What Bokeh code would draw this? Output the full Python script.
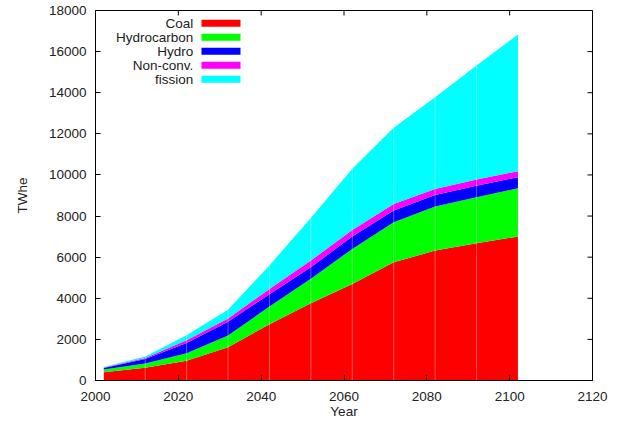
import math
from bokeh.plotting import figure
from bokeh.models import ColumnDataSource, FixedTicker, Range1d
from bokeh.embed import file_html
from bokeh.resources import INLINE
from bokeh.core.properties import value

years = [2002, 2012, 2022, 2032, 2042, 2052, 2062, 2072, 2082, 2092, 2102]
coal = [404, 620, 960, 1620, 2740, 3760, 4700, 5750, 6320, 6680, 7000]
hydrocarbon = [136, 210, 360, 570, 860, 1190, 1700, 1950, 2140, 2240, 2350]
hydro = [70, 215, 510, 670, 600, 560, 610, 570, 570, 560, 540]
nonconv = [25, 45, 130, 160, 250, 330, 310, 320, 290, 300, 290]
fission = [20, 80, 240, 420, 1150, 2060, 2980, 3700, 4460, 5540, 6650]

names = ["Coal", "Hydrocarbon", "Hydro", "Non-conv.", "fission"]
keys = ["coal", "hydrocarbon", "hydro", "nonconv", "fission"]
colors = ["#ff0000", "#00ff00", "#0000ff", "#ff00ff", "#00ffff"]
x_ticks = [2000, 2020, 2040, 2060, 2080, 2100, 2120]
y_ticks = [0, 2000, 4000, 6000, 8000, 10000, 12000, 14000, 16000, 18000]
x_min, x_max = 2000, 2120
y_min, y_max = 0, 18000

FONT = "Liberation Sans"
FS = "13.5px"
TXT = "#222222"

p = figure(frame_width=497, frame_height=370,
           x_range=Range1d(x_min, x_max), y_range=Range1d(y_min, y_max),
           output_backend="svg", toolbar_location=None,
           min_border_left=95, min_border_top=10, min_border_right=30,
           min_border_bottom=40)

src = ColumnDataSource(dict(year=years, coal=coal, hydrocarbon=hydrocarbon,
                            hydro=hydro, nonconv=nonconv, fission=fission))
p.varea_stack(stackers=keys, x="year", color=colors, source=src)

# faint seams at the data points (as in the gnuplot rendering)
total = [a + b + c + d + e for a, b, c, d, e in zip(coal, hydrocarbon, hydro, nonconv, fission)]
p.segment(x0=years[1:-1], y0=[y_min] * (len(years) - 2), x1=years[1:-1], y1=total[1:-1],
          line_color="white", line_alpha=0.35, line_width=1)

# gnuplot-style key: text right-aligned, swatch to the right
key_text_x = 2023.6
key_swatch_x = 2030.3
key_y = [17380, 16700, 16020, 15340, 14660]
p.text(x=[key_text_x] * 5, y=key_y, text=names, text_align="right",
       text_baseline="middle", text_font=value(FONT), text_font_size=FS,
       text_color=TXT)
p.rect(x=[key_swatch_x] * 5, y=key_y, width=39, height=7,
       width_units="screen", height_units="screen", fill_color=colors,
       line_color=None)

# mirrored inward ticks on the top and right borders
p.ray(x=[x_max] * len(y_ticks), y=y_ticks, length=5, length_units="screen",
      angle=math.pi, line_color="black", line_width=1)
p.ray(x=x_ticks, y=[y_max] * len(x_ticks), length=5, length_units="screen",
      angle=-math.pi / 2, line_color="black", line_width=1)

p.grid.visible = False
p.outline_line_color = "black"
p.outline_line_width = 1
p.background_fill_color = "white"
p.border_fill_color = "white"

p.xaxis.ticker = FixedTicker(ticks=x_ticks)
p.yaxis.ticker = FixedTicker(ticks=y_ticks)
p.xaxis.axis_label = "Year"
p.yaxis.axis_label = "TWhe"
for ax in (p.xaxis[0], p.yaxis[0]):
    ax.major_label_text_font = FONT
    ax.major_label_text_font_size = FS
    ax.major_label_text_color = TXT
    ax.axis_label_text_font = FONT
    ax.axis_label_text_font_size = FS
    ax.axis_label_text_font_style = "normal"
    ax.axis_label_text_color = TXT
    ax.major_tick_in = 5
    ax.major_tick_out = 0
    ax.minor_tick_line_color = None
    ax.axis_line_color = "black"
    ax.major_tick_line_color = "black"
p.xaxis.major_label_standoff = 11
p.xaxis.axis_label_standoff = 0
p.yaxis.major_label_standoff = 9
p.yaxis.axis_label_standoff = 16

open("out.html", "w").write(file_html(p, INLINE))
